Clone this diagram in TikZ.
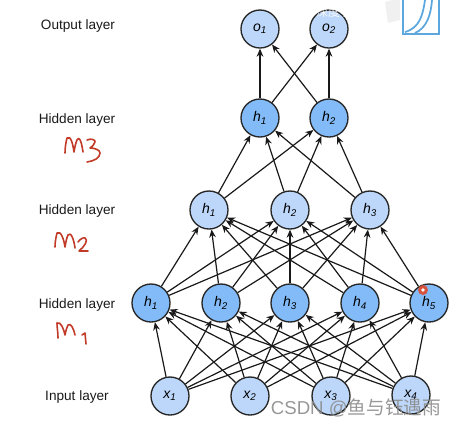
\documentclass[tikz,border=0pt]{standalone}
\usepackage{fontspec}
\setmainfont{Liberation Sans}
\newfontfamily\cjk{Noto Sans CJK SC}
\usetikzlibrary{arrows.meta,positioning}
\definecolor{hid}{HTML}{82BBF7}
\definecolor{ends}{HTML}{BDD7FA}
\definecolor{pen}{HTML}{C23B28}
\definecolor{wmgray}{HTML}{8C8C8C}
\definecolor{logo}{HTML}{5BA7DE}
\definecolor{dot}{HTML}{E0492B}

\begin{document}
\begin{tikzpicture}[x=0.75pt,y=-0.75pt,
   nn/.style={circle,draw=black!85,line width=1pt,minimum size=28.5pt,inner sep=0pt,font=\fontsize{10.5}{12}\selectfont\itshape},
   hn/.style={nn,fill=hid},
   en/.style={nn,fill=ends},
   lay/.style={font=\fontsize{10.2}{12}\selectfont,text=black!90},
   ed/.style={-{Stealth[length=6pt,width=5pt]},line width=0.9pt,black!90},
   hand/.style={pen,line width=1.2pt,line cap=round,line join=round}]
  \useasboundingbox (0,0) rectangle (457,426);
  % output layer
  \node[en] (o1) at (260,29) {o\textsubscript{1}};
  \node[en] (o2) at (329,29) {o\textsubscript{2}};
  % third hidden layer
  \node[hn] (c1) at (260,118) {h\textsubscript{1}};
  \node[hn] (c2) at (329,118) {h\textsubscript{2}};
  % second hidden layer
  \node[en] (b1) at (209,210) {h\textsubscript{1}};
  \node[en] (b2) at (290,210) {h\textsubscript{2}};
  \node[en] (b3) at (370,210) {h\textsubscript{3}};
  % first hidden layer
  \node[hn] (a1) at (151,303) {h\textsubscript{1}};
  \node[hn] (a2) at (221,303) {h\textsubscript{2}};
  \node[hn] (a3) at (290,303) {h\textsubscript{3}};
  \node[hn] (a4) at (360,303) {h\textsubscript{4}};
  \node[hn] (a5) at (429,303) {h\textsubscript{5}};
  % input layer
  \node[en] (x1) at (170,396) {x\textsubscript{1}};
  \node[en] (x2) at (250,396) {x\textsubscript{2}};
  \node[en] (x3) at (331,396) {x\textsubscript{3}};
  \node[en] (x4) at (411,395) {x\textsubscript{4}};
  % connections
  \foreach \s in {x1,x2,x3,x4}
    \foreach \t in {a1,a2,a3,a4,a5}
      \draw[ed] (\s)--(\t);
  \foreach \s in {a1,a2,a3,a4,a5}
    \foreach \t in {b1,b2,b3}
      \draw[ed] (\s)--(\t);
  \foreach \s in {b1,b2,b3}
    \foreach \t in {c1,c2}
      \draw[ed] (\s)--(\t);
  \foreach \s in {c1,c2}
    \foreach \t in {o1,o2}
      \draw[ed] (\s)--(\t);
  % layer names
  \node[lay] (l1) at (78,26) {Output layer};
  \node[lay] (l2) at (77,120) {Hidden layer};
  \node[lay] (l3) at (77,211) {Hidden layer};
  \node[lay] (l4) at (77,305) {Hidden layer};
  \node[lay] (l5) at (77,397) {Input layer};
  % handwritten notes
  \draw[hand] (65,153) .. controls (65,147) and (66,142) .. (67,138) .. controls (71,135) and (73,145) .. (74,152) .. controls (75,146) and (76,142) .. (77,140) .. controls (80,135) and (82,145) .. (83,152);
  \draw[hand] (87,140) .. controls (91,138) and (96,140) .. (95,142) .. controls (94,145) and (92,147) .. (90,148) .. controls (95,148) and (100,150) .. (100,153) .. controls (100,158) and (94,161) .. (87,162);
  \draw[hand] (55,247) .. controls (55,242) and (56,237) .. (57,233) .. controls (61,230) and (64,240) .. (65,247) .. controls (66,241) and (67,237) .. (68,235) .. controls (71,231) and (74,240) .. (75,248);
  \draw[hand] (78,242) .. controls (80,239) and (84,237) .. (85,238) .. controls (89,240) and (84,247) .. (79,251) -- (88,251);
  \draw[hand] (58,338) .. controls (58,332) and (57,328) .. (57,323) .. controls (61,321) and (64,330) .. (65,335) .. controls (66,330) and (67,327) .. (68,325) .. controls (71,322) and (74,330) .. (75,335);
  \draw[hand] (82,335) -- (85,333) -- (86,344);
  % marks on the screenshot
  \fill[black!6] (385,2) -- (392,0) -- (400,0) -- (400,20) -- (388,23) -- cycle;
  \fill[dot,opacity=0.9] (423,290) circle (5);
  \fill[white] (423,290) circle (1.8);
  \draw[logo,line width=1.4pt] (403,0) -- (403,34) -- (439,34) -- (439,0);
  \draw[logo,line width=1.3pt] (405,32) .. controls (420,28) and (423,14) .. (425,0);
  \draw[logo,line width=1.3pt] (415,33) .. controls (427,28) and (431,14) .. (432,0);
  \node[font=\fontsize{9}{11}\selectfont\cjk,text=white,opacity=0.85,inner sep=0pt] (wt) at (322,12) {动手学深度学习};
  \node[font=\fontsize{14}{16}\selectfont,text=wmgray,opacity=0.9,inner sep=0pt] (wm) at (356,408) {CSDN @{\cjk 鱼与钰遇雨}};
\end{tikzpicture}
\end{document}
